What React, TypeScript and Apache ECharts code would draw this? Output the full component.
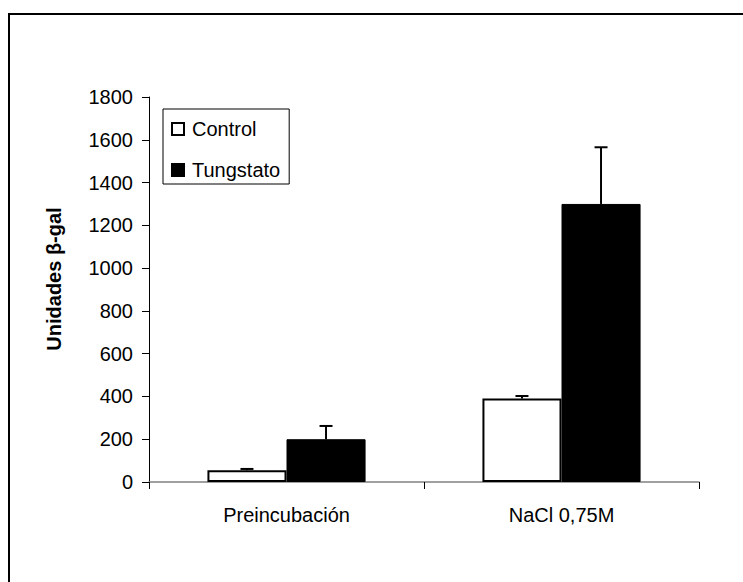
import React, { useEffect, useRef } from "react";
import * as echarts from "echarts";

const categories = ["Preincubación", "NaCl 0,75M"];
const controlValues = [55, 390];
const controlErrors = [6, 12];
const tungstatoValues = [200, 1300];
const tungstatoErrors = [62, 265];
const yTicks = [0, 200, 400, 600, 800, 1000, 1200, 1400, 1600, 1800];

const FONT = "Liberation Sans, Arial, sans-serif";
const CAT_GAP = 0.425;

function errorSeries(name: string, values: number[], errors: number[], side: number) {
  return {
    type: "custom",
    name: name + "_err",
    z: 5,
    silent: true,
    data: values.map((v, i) => [i, v, v + errors[i]]),
    renderItem: (params: any, api: any) => {
      const idx = api.value(0);
      const base = api.coord([idx, api.value(1)]);
      const top = api.coord([idx, api.value(2)]);
      const catW = api.size([1, 0])[0];
      const barW = (catW * (1 - CAT_GAP)) / 2;
      const x = base[0] + (side * barW) / 2;
      const cap = 6.5;
      return {
        type: "group",
        children: [
          {
            type: "line",
            shape: { x1: x, y1: base[1], x2: x, y2: top[1] },
            style: { stroke: "#000", lineWidth: 2 },
          },
          {
            type: "line",
            shape: { x1: x - cap, y1: top[1], x2: x + cap, y2: top[1] },
            style: { stroke: "#000", lineWidth: 2 },
          },
        ],
      };
    },
  };
}

export default function App() {
  const ref = useRef<HTMLDivElement>(null);
  useEffect(() => {
    if (!ref.current) return;
    const chart = echarts.init(ref.current, null, { renderer: "svg" });
    chart.setOption({
      animation: false,
      backgroundColor: "#fff",
      textStyle: { fontFamily: FONT },
      graphic: [
        {
          type: "rect",
          shape: { x: 9, y: 14, width: 760, height: 600 },
          style: { fill: "none", stroke: "#000", lineWidth: 2 },
          z: 0,
        },
        {
          type: "text",
          x: 54,
          y: 279,
          rotation: Math.PI / 2,
          style: {
            text: "Unidades β-gal",
            fontSize: 20,
            fontWeight: "bold",
            fontFamily: FONT,
            fill: "#000",
            align: "center",
            verticalAlign: "middle",
          },
          z: 10,
        },
      ],
      grid: { left: 149, right: 44, top: 97, bottom: 100, containLabel: false },
      legend: {
        orient: "vertical",
        left: 163,
        top: 109,
        data: ["Control", "Tungstato"],
        backgroundColor: "#fff",
        borderColor: "#000",
        borderWidth: 1,
        borderRadius: 0,
        padding: [10, 9, 4, 8],
        itemGap: 21,
        itemWidth: 12,
        itemHeight: 12,
        icon: "rect",
        textStyle: { fontSize: 20, color: "#000", fontFamily: FONT, padding: [0, 0, 0, 3] },
      },
      xAxis: {
        type: "category",
        data: categories,
        axisLine: { lineStyle: { color: "#808080", width: 1.5 } },
        axisTick: { show: true, length: 7, lineStyle: { color: "#000", width: 1 } },
        axisLabel: { fontSize: 20, color: "#000", margin: 23, fontFamily: FONT },
      },
      yAxis: {
        type: "value",
        min: 0,
        max: 1800,
        interval: 200,
        axisLine: { show: true, lineStyle: { color: "#000", width: 1 } },
        axisTick: { show: true, length: 7, inside: false, lineStyle: { color: "#000" } },
        axisLabel: {
          fontSize: 20,
          color: "#000",
          margin: 16,
          fontFamily: FONT,
          formatter: (v: number) => (yTicks.includes(v) ? String(v) : ""),
        },
        splitLine: { show: false },
      },
      series: [
        {
          type: "bar",
          name: "Control",
          data: controlValues,
          barGap: "0%",
          barCategoryGap: CAT_GAP * 100 + "%",
          itemStyle: { color: "#fff", borderColor: "#000", borderWidth: 2 },
        },
        {
          type: "bar",
          name: "Tungstato",
          data: tungstatoValues,
          barGap: "0%",
          barCategoryGap: CAT_GAP * 100 + "%",
          itemStyle: { color: "#000", borderColor: "#000", borderWidth: 1 },
        },
        errorSeries("Control", controlValues, controlErrors, -1),
        errorSeries("Tungstato", tungstatoValues, tungstatoErrors, 1),
      ],
    });
    return () => chart.dispose();
  }, []);
  return (
    <div
      ref={ref}
      style={{ position: "fixed", left: 0, top: 0, width: 743, height: 582 }}
    />
  );
}
